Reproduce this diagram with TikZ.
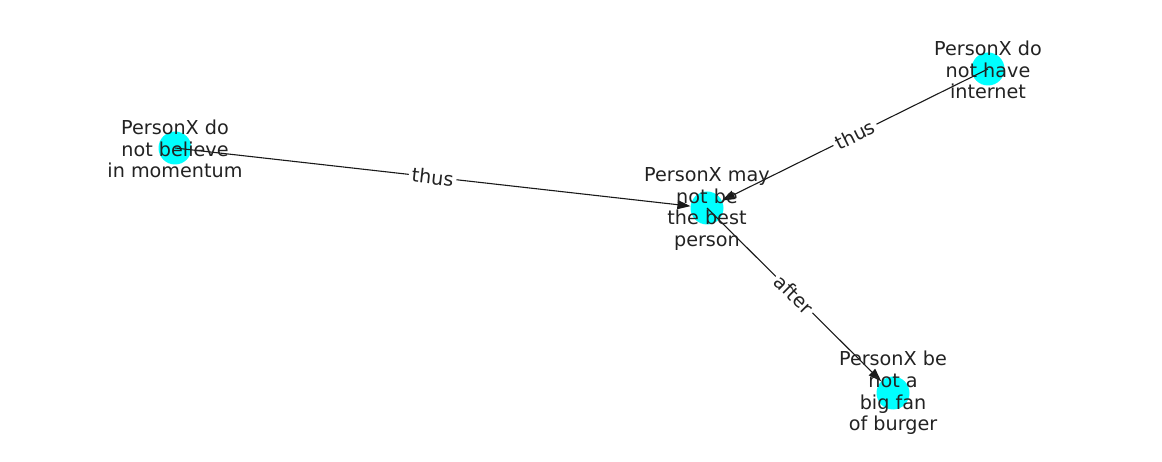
\documentclass[tikz,border=0pt]{standalone}
\usepackage{fontspec}
\setmainfont{DejaVu Sans}
\usetikzlibrary{arrows.meta}
\definecolor{nodecyan}{RGB}{0,255,255}
\definecolor{txt}{RGB}{34,34,34}
\begin{document}
\begin{tikzpicture}[x=1pt,y=-1pt,
  dot/.style={circle,fill=nodecyan,draw=none,minimum size=33pt,inner sep=0pt},
  lbl/.style={align=center,font=\fontsize{19.2}{21.7}\selectfont,text=txt},
  edge/.style={draw=black!90,line width=1.1pt,-{Triangle[length=13pt,width=9pt]}},
  elab/.style={fill=white,inner sep=3pt,font=\fontsize{19.2}{21}\selectfont,text=txt}]
\useasboundingbox (0,0) rectangle (1162,462);
\node[dot] (a) at (175,148) {};
\node[dot] (b) at (707,208) {};
\node[dot] (c) at (988,69) {};
\node[dot] (d) at (893,393) {};
\draw[edge] (a.center) -- (b) node[elab,pos=0.5,sloped] {thus};
\draw[edge] (c.center) -- (b) node[elab,pos=0.5,sloped] {thus};
\draw[edge] (b.center) -- (d) node[elab,pos=0.5,sloped] {after};
\node[lbl] (ta) at (175,149) {PersonX do\\not believe\\in momentum};
\node[lbl] (tb) at (707,209) {PersonX may\\not be\\the best\\person};
\node[lbl] (tc) at (988,70) {PersonX do\\not have\\internet};
\node[lbl] (td) at (893,393) {PersonX be\\not a\\big fan\\of burger};
\end{tikzpicture}
\end{document}
